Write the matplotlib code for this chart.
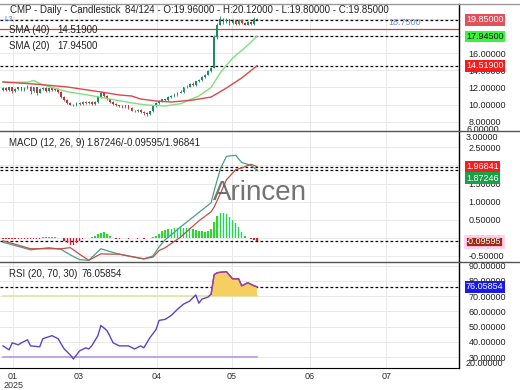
import numpy as np
import matplotlib
matplotlib.use("Agg")
import matplotlib.pyplot as plt
import matplotlib.transforms as mtrans
from matplotlib.lines import Line2D

plt.rcParams["font.family"] = ["Liberation Sans", "DejaVu Sans"]

# Precio (velas diarias)
opens = [11.7, 11.9, 11.7, 12.0, 11.6, 11.8, 12.0, 11.7, 11.9, 12.1, 11.6, 12.0, 11.4, 11.8, 11.9, 11.6, 11.9, 11.7, 11.8,
         11.5, 10.9, 10.5, 10.2, 10.0, 9.9, 10.2, 10.1, 10.3, 10.2, 10.3, 10.1, 10.3, 10.9, 11.4, 11.0, 10.6, 10.3, 10.1,
         9.9, 9.8, 9.7, 9.9, 9.6, 9.3, 9.2, 9.4, 9.1, 9.0, 8.9, 9.2, 9.8, 10.2, 10.4, 10.6, 10.5, 10.9, 11.0, 11.1, 11.4,
         11.5, 12.0, 12.1, 12.4, 12.3, 12.7, 12.9, 13.2, 13.5, 13.9, 14.3, 17.9, 19.3, 20.0, 19.6, 19.9, 19.5, 19.7, 19.4,
         19.8, 19.5, 19.3, 19.6, 19.4, 19.96]
closes = [11.9, 11.7, 12.0, 11.6, 11.8, 12.0, 11.7, 11.9, 12.1, 11.6, 12.0, 11.4, 11.8, 11.9, 11.6, 11.9, 11.7, 11.8, 11.5,
          10.9, 10.5, 10.2, 10.0, 9.9, 10.2, 10.1, 10.3, 10.2, 10.3, 10.1, 10.3, 10.9, 11.4, 11.0, 10.6, 10.3, 10.1, 9.9,
          9.8, 9.7, 9.9, 9.6, 9.3, 9.2, 9.4, 9.1, 9.0, 8.9, 9.2, 9.8, 10.2, 10.4, 10.6, 10.5, 10.9, 11.0, 11.1, 11.4, 11.5,
          12.0, 12.1, 12.4, 12.3, 12.7, 12.9, 13.2, 13.5, 13.9, 14.3, 17.9, 19.3, 20.0, 19.6, 19.9, 19.5, 19.7, 19.4, 19.8,
          19.5, 19.3, 19.6, 19.4, 20.0, 19.85]
highs = [12.0, 12.0, 12.1, 12.1, 11.9, 12.1, 12.1, 12.0, 12.3, 12.2, 12.1, 12.1, 11.9, 12.0, 12.0, 12.0, 12.0, 11.9, 11.9,
         11.6, 11.0, 10.6, 10.3, 10.1, 10.3, 10.3, 10.4, 10.4, 10.4, 10.4, 10.4, 11.0, 11.6, 11.5, 11.1, 10.7, 10.4, 10.2,
         10.0, 9.9, 10.0, 10.0, 9.7, 9.4, 9.5, 9.5, 9.2, 9.1, 9.3, 9.9, 10.3, 10.5, 10.7, 10.7, 11.0, 11.1, 11.3, 11.5,
         11.7, 12.1, 12.3, 12.5, 12.6, 12.8, 13.0, 13.3, 13.6, 14.0, 14.4, 18.1, 19.5, 20.3, 20.1, 20.1, 20.0, 19.9, 19.8,
         19.9, 19.9, 19.6, 19.7, 19.7, 20.2, 20.12]
lows = [11.6, 11.6, 11.6, 11.4, 11.5, 11.7, 11.6, 11.6, 11.8, 11.2, 11.5, 11.1, 11.3, 11.7, 11.5, 11.5, 11.6, 11.6, 11.4,
        10.8, 10.4, 10.1, 9.9, 9.8, 9.8, 10.0, 10.0, 10.1, 10.1, 10.0, 10.0, 10.2, 10.8, 10.9, 10.5, 10.2, 10.0, 9.8,
        9.7, 9.6, 9.6, 9.5, 9.2, 9.1, 9.1, 9.0, 8.8, 8.7, 8.8, 9.1, 9.7, 10.1, 10.3, 10.4, 10.4, 10.8, 10.9, 11.0, 11.3,
        11.4, 11.9, 12.0, 12.2, 12.2, 12.6, 12.8, 13.1, 13.4, 13.8, 14.2, 17.6, 19.2, 19.4, 19.5, 19.3, 19.4, 19.2, 19.3,
        19.4, 19.2, 19.2, 19.3, 19.3, 19.80]

# Medias moviles (barra, valor)
sma20_bar = [0, 8, 10, 13, 21, 28, 35, 42, 47, 53, 58, 64, 68, 71, 75, 79, 83]
sma20_val = [12.6, 12.6, 12.8, 12.3, 11.5, 11.1, 10.65, 10.2, 9.95, 9.84, 10.1, 11.0, 12.0, 13.7, 15.4, 16.6, 17.945]
sma40_bar = [0, 10, 21, 32, 38, 42, 45, 50, 55, 62, 68, 73, 78, 83]
sma40_val = [12.63, 12.4, 12.05, 11.47, 11.12, 11.0, 10.65, 10.42, 10.3, 10.53, 10.88, 11.93, 13.1, 14.519]

# MACD (barra, macd, senal) + histograma por barra
macd_bar = [0, 9, 15, 19, 22, 25, 28, 32, 35, 38, 41, 46, 49, 51, 53, 58, 64, 68, 69, 71, 73, 76, 78, 81, 83]
macd_val = [-0.12, -0.33, -0.27, -0.32, -0.47, -0.6, -0.62, -0.3, -0.38, -0.45, -0.5, -0.58, -0.5, -0.25, -0.05,
            0.3, 0.7, 0.97, 1.3, 1.9, 2.25, 2.28, 2.08, 2.0, 1.87246]
signal_val = [-0.08, -0.3, -0.3, -0.3, -0.27, -0.45, -0.62, -0.44, -0.45, -0.45, -0.5, -0.58, -0.53, -0.35, -0.27,
              0.02, 0.47, 0.72, 0.85, 1.22, 1.6, 1.88, 1.93, 2.03, 1.96841]
hist = [-0.03, -0.03, -0.03, -0.03, -0.03, -0.03, -0.03, -0.03, -0.03, -0.03, -0.03, -0.03, -0.03,
        0.03, 0.03, 0.03, 0.03, 0.03, 0.0, 0.0,
        -0.1, -0.15, -0.2, -0.2, -0.15, -0.08,
        -0.02, 0.0, 0.0, 0.02, 0.05,
        0.1, 0.14, 0.15, 0.12, 0.06,
        0.01, -0.02, -0.02, 0.01, -0.01, -0.02, 0.01, -0.01, -0.02, 0.01, -0.02, -0.01, 0.01,
        0.03, 0.06, 0.1,
        0.18, 0.22, 0.24, 0.25, 0.27, 0.28, 0.3, 0.28, 0.27, 0.26, 0.25, 0.22, 0.2, 0.18, 0.17,
        0.18, 0.25, 0.45, 0.6, 0.68, 0.7, 0.65, 0.58, 0.5, 0.4, 0.3, 0.15, 0.06, 0.0, -0.03, -0.06, -0.096]

# RSI (barra, valor)
rsi_bar = [0, 2, 3, 5, 6, 8, 9, 12, 13, 15, 16, 18, 20, 22, 23, 25, 27, 28, 29, 31, 32, 34, 36, 38, 41, 43, 45, 46,
           48, 50, 51, 53, 55, 57, 59, 61, 63, 64, 65, 67, 68, 69, 70, 73, 75, 77, 78, 80, 82, 83]
rsi_val = [37.3, 34.7, 39.3, 38, 39.3, 41.3, 37.3, 36.7, 42, 43.3, 44, 42, 35.3, 31.3, 28.7, 34, 36, 35.3, 37.3, 44,
           50.7, 47.3, 39.3, 37.3, 37.3, 35.3, 37.3, 36, 42.7, 48, 54, 54.7, 57.3, 61.3, 64.7, 66.7, 70.7, 65.3, 68,
           69.3, 71.3, 84, 85.3, 86, 81.3, 81.3, 76.7, 78.7, 76.7, 76.05854]

month_pos = [3.3, 24.8, 50.3, 74.8, 100.3, 125.2]
month_lbl = ["01\n2025", "03", "04", "05", "06", "07"]

last_close = 19.85
sma20_last = 17.945
sma40_last = 14.519
alert_level = 18.75
rsi_last = 76.05854

W, H = 520, 390
fig = plt.figure(figsize=(5.2, 3.9), dpi=100)
ax_p = fig.add_axes([0, (H - 131) / H, 459 / W, 127 / H])
ax_m = fig.add_axes([0, (H - 262) / H, 459 / W, 131 / H], sharex=ax_p)
ax_r = fig.add_axes([0, (H - 368) / H, 459 / W, 106 / H], sharex=ax_p)

FS = 6.5
GRID = "#e9e9e9"
for ax in (ax_p, ax_m, ax_r):
    ax.set_facecolor("white")
    ax.yaxis.tick_right()
    ax.tick_params(axis="y", length=0, pad=7, labelsize=FS, labelcolor="#222")
    ax.tick_params(axis="x", length=0)
    for s in ("left", "top", "bottom"):
        ax.spines[s].set_visible(False)
    ax.spines["right"].set_color("black")
    ax.spines["right"].set_linewidth(1.0)
    ax.set_xticks(month_pos)
    ax.grid(True, color=GRID, lw=0.7, zorder=0)
    ax.set_axisbelow(True)

ax_p.set_xlim(-0.98, 149.0)
plt.setp(ax_p.get_xticklabels(), visible=False)
plt.setp(ax_m.get_xticklabels(), visible=False)

# ---- precio ----
o = np.array(opens)
c = np.array(closes)
x = np.arange(len(c))
up = c >= o
col = np.where(up, "#1d8a62", "#b8383a")
ax_p.vlines(x, lows, highs, colors=col, lw=0.6, zorder=3)
ax_p.bar(x, np.maximum(np.abs(c - o), 0.04), bottom=np.minimum(o, c), width=0.55, color=col, zorder=3)
ax_p.plot(sma20_bar, sma20_val, color="#7ee07e", lw=1.0, zorder=4)
ax_p.plot(sma40_bar, sma40_val, color="#d9494b", lw=1.0, zorder=4)
ax_p.axhline(alert_level, color="#d63c3c", lw=0.9, zorder=2)
for lv in (last_close, sma20_last, sma40_last):
    ax_p.axhline(lv, color="black", lw=0.9, ls=(0, (2.2, 1.8)), zorder=2)
ax_p.set_ylim(6.93, 21.7)
ax_p.set_yticks([8, 10, 12, 14, 16, 18, 20])
ax_p.yaxis.set_major_formatter(matplotlib.ticker.FormatStrFormatter("%.5f"))
ax_p.text(0.022, 0.955, "CMP - Daily - Candlestick", transform=ax_p.transAxes, fontsize=7, color="#222", va="center")
ax_p.text(0.272, 0.955, "84/124 - O:19.96000 - H:20.12000 - L:19.80000 - C:19.85000",
          transform=ax_p.transAxes, fontsize=7, color="#222", va="center")
ax_p.text(0.02, 1 - 26 / 127, "SMA (40)", transform=ax_p.transAxes, fontsize=7, color="#222", va="center")
ax_p.text(0.125, 1 - 26 / 127, "14.51900", transform=ax_p.transAxes, fontsize=7, color="#222", va="center")
ax_p.text(0.02, 1 - 42 / 127, "SMA (20)", transform=ax_p.transAxes, fontsize=7, color="#222", va="center")
ax_p.text(0.125, 1 - 42 / 127, "17.94500", transform=ax_p.transAxes, fontsize=7, color="#222", va="center")
ax_p.text(126, alert_level + 0.25, "18.7500", fontsize=6.5, color="#6d8fd2", va="bottom", ha="left")
ax_p.text(0.5, last_close, "L3", fontsize=5.5, color="#5a7fd0", va="center", ha="left")
# etiqueta de eje recortada en el borde inferior
ax_p.text(1 + 7 / 459, 2 / 127, "6.00000", transform=ax_p.transAxes, fontsize=FS, color="#222", va="center")

# ---- MACD ----
hist_a = np.array(hist)
bg = np.where(hist_a >= 0, "#c9fbfb", "#ffd3ea")
fg = np.where(hist_a >= 0, "#3ccf2a", "#c82828")
ax_m.bar(x, hist_a, width=1.0, color=bg, zorder=2)
ax_m.bar(x, hist_a, width=0.5, color=fg, zorder=3)
ax_m.plot(macd_bar, macd_val, color="#4c9e88", lw=0.9, zorder=4)
ax_m.plot(macd_bar, signal_val, color="#bf5046", lw=0.9, zorder=4)
for lv in (signal_val[-1], macd_val[-1], hist[-1]):
    ax_m.axhline(lv, color="black", lw=0.9, ls=(0, (2.2, 1.8)), zorder=2)
ax_m.set_ylim(-0.666, 2.95)
ax_m.set_yticks([-0.5, 0, 0.5, 1.0, 1.5, 2.0, 2.5])
ax_m.yaxis.set_major_formatter(matplotlib.ticker.FormatStrFormatter("%.5f"))
ax_m.text(1 + 7 / 459, 1 - 6 / 131, "3.00000", transform=ax_m.transAxes, fontsize=FS, color="#222", va="center")
ax_m.text(0.02, 1 - 12 / 131, "MACD (12, 26, 9)", transform=ax_m.transAxes, fontsize=7, color="#222", va="center")
ax_m.text(0.188, 1 - 12 / 131, "1.87246/-0.09595/1.96841", transform=ax_m.transAxes, fontsize=7,
          color="#222", va="center")
ax_m.text(0.566, 0.527, "Arincen", transform=ax_m.transAxes, fontsize=20, color="#5a5a5a", alpha=0.85,
          ha="center", va="center", zorder=6)

# ---- RSI ----
ax_r.plot([0, x[-1]], [70, 70], color="#e2e8a2", lw=1.3, zorder=2)
ax_r.plot([0, x[-1]], [30, 30], color="#b9a0e3", lw=1.3, zorder=2)
rb = np.array(rsi_bar)
rv = np.array(rsi_val)
ax_r.fill_between(rb, 70, rv, where=rv >= 70, interpolate=True, color="#f6cf62", zorder=3, lw=0)
ax_r.plot(rb, rv, color="#5847c4", lw=1.0, zorder=4)
hi = rb >= 68
ax_r.plot(rb[hi], rv[hi], color="#a8409e", lw=1.0, zorder=5)
ax_r.axhline(rsi_last, color="black", lw=0.9, ls=(0, (2.2, 1.8)), zorder=2)
ax_r.set_ylim(22.8, 92.3)
ax_r.set_yticks([30, 40, 50, 60, 70, 80, 90])
ax_r.yaxis.set_major_formatter(matplotlib.ticker.FormatStrFormatter("%.5f"))
ax_r.set_xticklabels(month_lbl, fontsize=FS, color="#333", linespacing=0.95)
ax_r.tick_params(axis="x", pad=3)
ax_r.spines["bottom"].set_visible(True)
ax_r.spines["bottom"].set_color("black")
ax_r.text(0.02, 1 - 12 / 106, "RSI (20, 70, 30)", transform=ax_r.transAxes, fontsize=7, color="#222", va="center")
ax_r.text(0.178, 1 - 12 / 106, "76.05854", transform=ax_r.transAxes, fontsize=7, color="#222", va="center")
ax_r.text(1 + 7 / 459, 4.5 / 106, "20.00000", transform=ax_r.transAxes, fontsize=FS, color="#222", va="center")


# etiquetas de la derecha (dy en pixeles para separar las que chocan)
def right_box(ax, val, txt, fc, tc, ec="none", lw=0, dy=0):
    tr = mtrans.blended_transform_factory(ax.transAxes, ax.transData)
    tr = mtrans.offset_copy(tr, fig=fig, x=0, y=-dy * 72 / fig.dpi, units="points")
    ax.text(1 + 7 / 459, val, txt, transform=tr, fontsize=FS, color=tc, va="center", ha="left", zorder=10,
            bbox=dict(boxstyle="square,pad=0.14", fc=fc, ec=ec, lw=lw))


right_box(ax_p, last_close, "19.85000", "#e2505c", "white")
right_box(ax_p, sma20_last, "17.94500", "#3ff23f", "#111")
right_box(ax_p, sma40_last, "14.51900", "#f41d1d", "white")
right_box(ax_m, signal_val[-1], "1.96841", "#f51e1e", "white")
right_box(ax_m, macd_val[-1], "1.87246", "#18a046", "white", dy=8)
right_box(ax_m, hist[-1], "-0.09595", "#9e2a10", "white", ec="#ffd0f2", lw=2)
right_box(ax_r, rsi_last, "76.05854", "#1a1ae8", "white")

# separadores de paneles
for yy, cc in ((4, "#9a9a9a"), (131, "#555555"), (262, "#555555")):
    fig.add_artist(Line2D([0, 1], [1 - yy / H, 1 - yy / H], color=cc, lw=1.0, transform=fig.transFigure))

fig.savefig("out.png", dpi=100)
